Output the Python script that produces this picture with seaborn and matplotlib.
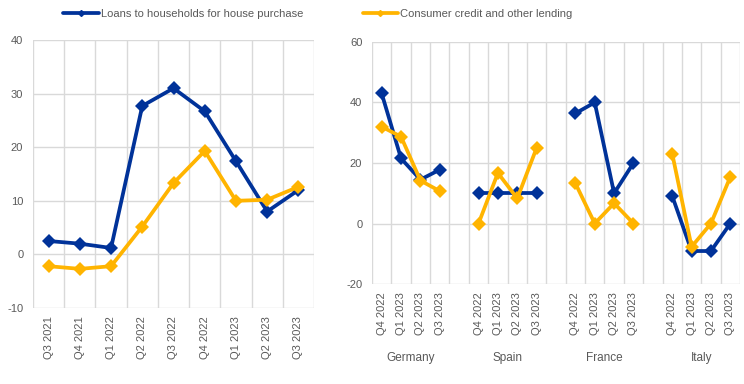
import numpy as np
import pandas as pd
import matplotlib
matplotlib.use("Agg")
import matplotlib.pyplot as plt
import seaborn as sns
from matplotlib.lines import Line2D
from matplotlib.ticker import FixedLocator, MultipleLocator

# euro area: net demand over time
ea_quarters = ["Q3 2021", "Q4 2021", "Q1 2022", "Q2 2022", "Q3 2022",
               "Q4 2022", "Q1 2023", "Q2 2023", "Q3 2023"]
ea_house = [2.5, 2.0, 1.2, 27.7, 31.0, 26.7, 17.4, 8.0, 12.0]
ea_consumer = [-2.2, -2.7, -2.2, 5.2, 13.3, 19.3, 10.0, 10.2, 12.6]

# country breakdown, last four quarters
countries = ["Germany", "Spain", "France", "Italy"]
cty_quarters = ["Q4 2022", "Q1 2023", "Q2 2023", "Q3 2023"]
house_de = [43.0, 21.5, 14.5, 17.8]
house_es = [10.0, 10.0, 10.0, 10.0]
house_fr = [36.4, 40.0, 10.0, 20.0]
house_it = [9.1, -9.1, -9.1, 0.0]
cons_de = [32.0, 28.7, 14.2, 10.7]
cons_es = [0.0, 16.7, 8.3, 25.0]
cons_fr = [13.3, 0.0, 6.7, 0.0]
cons_it = [23.1, -7.7, 0.0, 15.4]

series_names = ["Loans to households for house purchase", "Consumer credit and other lending"]
colors = {series_names[0]: "#003299", series_names[1]: "#FFB400"}

sns.set_theme(style="white")
plt.rcParams["font.family"] = ["Liberation Sans", "DejaVu Sans"]
plt.rcParams["axes.unicode_minus"] = False
txt = "#595959"
grid_c = "#d9d9d9"

fig = plt.figure(figsize=(7.44, 3.84), dpi=100)
ax1 = fig.add_axes([33 / 744, 1 - 308 / 384, 281 / 744, 268 / 384])
ax2 = fig.add_axes([372 / 744, 1 - 284 / 384, 368 / 744, 242 / 384])

def style_axes(ax, n):
    for s in ax.spines.values():
        s.set_visible(False)
    ax.set_xlim(-0.5, n - 0.5)
    ax.xaxis.set_minor_locator(FixedLocator(np.arange(n + 1) - 0.5))
    ax.grid(True, which="minor", axis="x", color=grid_c, lw=1)
    ax.grid(True, which="major", axis="y", color=grid_c, lw=1)
    ax.grid(False, which="major", axis="x")
    ax.tick_params(axis="both", which="both", length=0, labelsize=8, colors=txt)
    ax.tick_params(axis="y", pad=7)
    ax.tick_params(axis="x", pad=6)
    ax.set_xlabel("")
    ax.set_ylabel("")

# left panel
ea = pd.DataFrame({
    "quarter": ea_quarters * 2,
    "pos": list(range(len(ea_quarters))) * 2,
    "value": ea_house + ea_consumer,
    "series": [series_names[0]] * len(ea_quarters) + [series_names[1]] * len(ea_quarters),
})
sns.lineplot(data=ea, x="pos", y="value", hue="series", palette=colors,
             marker="D", markersize=7, markeredgewidth=0, linewidth=2.7,
             legend=False, ax=ax1, hue_order=series_names)
style_axes(ax1, len(ea_quarters))
ax1.set_ylim(-10, 40)
ax1.yaxis.set_major_locator(MultipleLocator(10))
ax1.set_xticks(range(len(ea_quarters)))
ax1.set_xticklabels(ea_quarters, rotation=90)

# right panel: four groups of four with a gap column between groups
house_vals = [house_de, house_es, house_fr, house_it]
cons_vals = [cons_de, cons_es, cons_fr, cons_it]
n_right = len(countries) * (len(cty_quarters) + 1) - 1
tick_pos, tick_lab = [], []
for i, c in enumerate(countries):
    start = i * (len(cty_quarters) + 1)
    pos = list(range(start, start + len(cty_quarters)))
    tick_pos += pos
    tick_lab += cty_quarters
    df = pd.DataFrame({
        "pos": pos * 2,
        "value": house_vals[i] + cons_vals[i],
        "series": [series_names[0]] * 4 + [series_names[1]] * 4,
    })
    sns.lineplot(data=df, x="pos", y="value", hue="series", palette=colors,
                 marker="D", markersize=7, markeredgewidth=0, linewidth=2.7,
                 legend=False, ax=ax2, hue_order=series_names)
    ax2.text(np.mean(pos), -0.305, c, transform=ax2.get_xaxis_transform(),
             ha="center", va="center", fontsize=8.5, color=txt)
style_axes(ax2, n_right)
ax2.set_ylim(-20, 60)
ax2.yaxis.set_major_locator(MultipleLocator(20))
ax2.set_xticks(tick_pos)
ax2.set_xticklabels(tick_lab, rotation=90)

handles = [Line2D([0], [0], color=colors[s], lw=2.7, marker="D", markersize=3) for s in series_names]
fig.legend(handles, series_names, loc="center", bbox_to_anchor=(318 / 744, 1 - 14 / 384),
           ncol=2, frameon=False, fontsize=8, labelcolor=txt, handlelength=3.2,
           handletextpad=0.2, columnspacing=5.3)

fig.savefig("out.png", dpi=100)
